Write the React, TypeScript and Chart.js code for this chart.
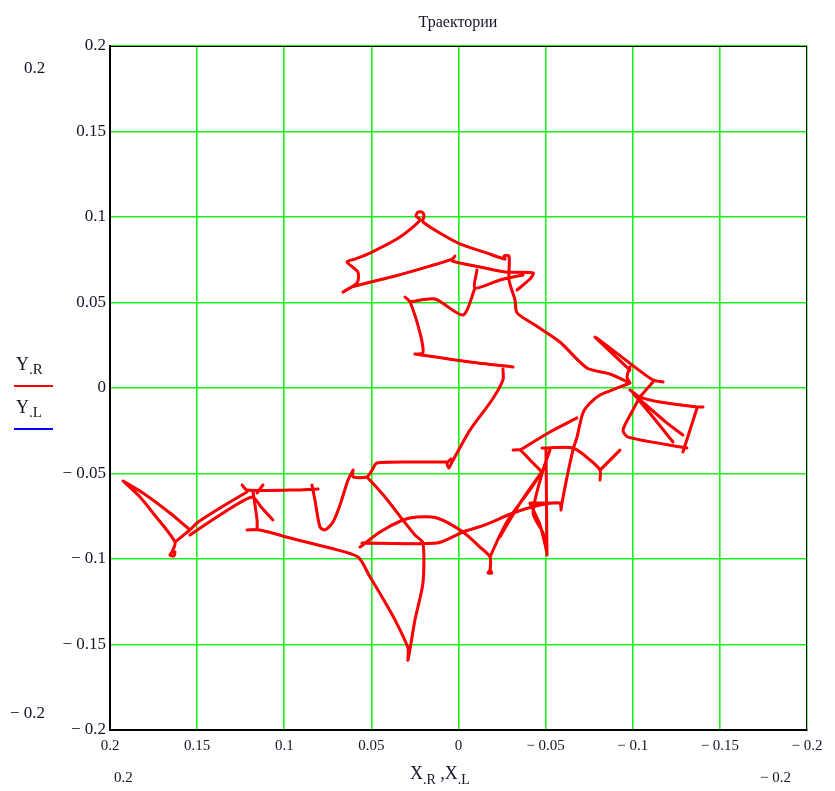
import React, { useEffect, useRef } from "react";
import { Chart, registerables } from "chart.js";
Chart.register(...registerables);

// Axis tick values (both axes, Mathcad-style, x reversed)
const tickValues = [-0.2, -0.15, -0.1, -0.05, 0, 0.05, 0.1, 0.15, 0.2];
const axisMin = -0.2;
const axisMax = 0.2;

// Trajectory strokes: X.R values (each inner array is one stroke)
const strokesX: number[][] = [
  [0.0663, 0.0582, 0.0577, 0.064, 0.0594, 0.0508, 0.0336, 0.0221, 0.0244, 0.0232, 0.0209, 0.0198, 0.0204, 0.0003, -0.0164, -0.0267, -0.0261, -0.029, -0.029, -0.0324, -0.0336, -0.0439, -0.0582, -0.0737, -0.0869, -0.0984],
  [0.0663, 0.0611, 0.0364, 0.0164, 0.0037, 0.002, 0.0037, -0.0123, -0.0267, -0.0428, -0.041, -0.0336],
  [-0.0106, -0.0095, -0.0238, -0.037],
  [-0.0095, -0.0026, 0.0135, 0.0278],
  [0.0307, 0.0278, 0.0221, 0.0204, 0.025],
  [0.025, -0.0066, -0.0313],
  [-0.0255, -0.0255, -0.0192, -0.0066, 0.0037, 0.0055, 0.0066, 0.0043],
  [0.006, 0.0221, 0.0468, 0.0496, 0.0525, 0.0605, 0.0605],
  [0.0525, 0.0422, 0.0319, 0.025, 0.0204, 0.0204, 0.025, 0.029, 0.029, 0.0364, 0.0439, 0.0508, 0.0577, 0.0737, 0.0967, 0.1139, 0.1214],
  [0.1156, 0.1156, 0.1179],
  [0.1242, 0.1214, 0.091, 0.0806],
  [0.0841, 0.0824, 0.0795, 0.0766, 0.072, 0.068, 0.0634, 0.0605],
  [0.0565, 0.045, 0.0319, 0.0238, 0.0123, -0.0026, -0.0123, -0.0181, -0.0181, -0.0169, -0.0192, -0.0181],
  [0.0554, 0.0123, -0.0026, -0.0152, -0.0313, -0.0468, -0.0582, -0.0588],
  [-0.0181, -0.0238, -0.0296, -0.041, -0.0485],
  [-0.0502, -0.0508],
  [-0.041, -0.0468, -0.0508],
  [-0.0313, -0.0353, -0.041, -0.0468],
  [-0.0353, -0.0525, -0.068],
  [-0.0479, -0.0657, -0.0755, -0.0812, -0.0812],
  [-0.0812, -0.0927],
  [-0.0525, -0.0485, -0.0428, -0.0485, -0.0508],
  [-0.0485, -0.0353, -0.0238],
  [-0.041, -0.0582],
  [-0.0984, -0.0927, -0.0812, -0.0755, -0.0714, -0.068, -0.0657, -0.0623, -0.0594, -0.0588],
  [-0.0783, -0.0984],
  [-0.0795, -0.0996, -0.1116, -0.1174],
  [-0.0984, -0.0967, -0.0984],
  [-0.1116, -0.1042, -0.1001, -0.0944, -0.0973, -0.1311],
  [-0.0984, -0.1042, -0.1156, -0.1369, -0.1403],
  [-0.1369, -0.1288],
  [-0.1001, -0.1116, -0.1231],
  [-0.1042, -0.1197, -0.1288],
  [0.1925, 0.1811, 0.1656, 0.1541],
  [0.1925, 0.1828, 0.1753, 0.1627, 0.1644, 0.1656, 0.1633, 0.1627],
  [0.1627, 0.1541, 0.1501, 0.1369, 0.1214],
  [0.1541, 0.1369, 0.1185, 0.1128, 0.1065],
  [0.1122, 0.1156],
];

// Trajectory strokes: Y.R values (same shape as strokesX)
const strokesY: number[][] = [
  [0.0561, 0.0614, 0.0678, 0.0737, 0.0754, 0.0789, 0.0883, 0.0982, 0.1006, 0.1029, 0.1029, 0.1006, 0.0971, 0.0848, 0.0789, 0.0754, 0.0772, 0.0772, 0.0632, 0.0515, 0.0439, 0.0368, 0.0269, 0.0117, 0.0082, 0.0029],
  [0.0561, 0.0591, 0.0655, 0.0713, 0.0754, 0.0772, 0.0743, 0.0708, 0.0678, 0.0673, 0.0637, 0.0573],
  [0.069, 0.0585, 0.0632, 0.0661],
  [0.0585, 0.0427, 0.052, 0.0503],
  [0.0532, 0.0503, 0.0322, 0.0205, 0.0199],
  [0.0199, 0.0152, 0.0123],
  [0.0111, 0.0047, -0.007, -0.0246, -0.0433, -0.0468, -0.0439, -0.0415],
  [-0.0433, -0.0433, -0.0439, -0.048, -0.052, -0.052, -0.048],
  [-0.052, -0.0637, -0.0772, -0.086, -0.0906, -0.114, -0.1357, -0.1591, -0.152, -0.1357, -0.1222, -0.1105, -0.0988, -0.0936, -0.0877, -0.083, -0.083],
  [-0.083, -0.0772, -0.0608],
  [-0.0567, -0.0596, -0.0596, -0.0591],
  [-0.0567, -0.0655, -0.0813, -0.083, -0.0784, -0.0684, -0.0538, -0.048],
  [-0.093, -0.0842, -0.0772, -0.0754, -0.076, -0.0842, -0.093, -0.0988, -0.1064, -0.1082, -0.1082, -0.1064],
  [-0.0906, -0.0906, -0.0842, -0.0801, -0.0731, -0.0684, -0.0673, -0.0702],
  [-0.0988, -0.086, -0.0754, -0.0596, -0.048],
  [-0.0363, -0.0977],
  [-0.0673, -0.0801, -0.0965],
  [-0.0363, -0.0363, -0.0421, -0.048],
  [-0.0363, -0.0257, -0.0175],
  [-0.0351, -0.0351, -0.0421, -0.048, -0.0538],
  [-0.048, -0.0363],
  [-0.0363, -0.048, -0.0731, -0.0848, -0.0965],
  [-0.048, -0.0673, -0.0871],
  [-0.0673, -0.0673],
  [0.0029, 0.0006, -0.0041, -0.0088, -0.0146, -0.0287, -0.0363, -0.052, -0.0673, -0.0713],
  [0.0298, 0.0105],
  [0.0292, 0.0135, 0.0047, 0.0035],
  [0.0123, 0.0064, 0.0029],
  [0.0035, -0.0053, -0.0129, -0.0246, -0.0287, -0.0351],
  [-0.0012, -0.0053, -0.0082, -0.0111, -0.0111],
  [-0.0117, -0.0374],
  [-0.0029, -0.017, -0.0316],
  [-0.007, -0.0205, -0.0275],
  [-0.0544, -0.0614, -0.0731, -0.083],
  [-0.0544, -0.0637, -0.0731, -0.0901, -0.0959, -0.0977, -0.0982, -0.0959],
  [-0.0901, -0.083, -0.0789, -0.0702, -0.0608],
  [-0.086, -0.0743, -0.0637, -0.0702, -0.0772],
  [-0.0567, -0.0614],
];

const SERIF = "'Liberation Serif', 'Times New Roman', serif";
const TEXT_COLOR = "#141428";

function fmt(v: number): string {
  const r = Math.round(v * 100) / 100;
  if (r === 0) return "0";
  return r < 0 ? "\u2212 " + String(Math.abs(r)) : String(r);
}

export default function App() {
  const ref = useRef<HTMLCanvasElement>(null);

  useEffect(() => {
    document.body.style.margin = "0";
    const pts: { x: number | null; y: number | null }[] = [];
    strokesX.forEach((xs, i) => {
      xs.forEach((x, j) => pts.push({ x, y: strokesY[i][j] }));
      pts.push({ x: null, y: null });
    });

    const setTicks = (scale: any) => {
      scale.ticks = tickValues.map((v) => ({ value: v }));
    };

    const boxPlugin = {
      id: "box",
      afterDraw(chart: any) {
        const { ctx, chartArea: a } = chart;
        ctx.save();
        ctx.strokeStyle = "#000";
        ctx.lineWidth = 1;
        ctx.strokeRect(a.left + 0.5, a.top + 0.5, a.right - a.left - 1, a.bottom - a.top - 1);
        ctx.restore();
      },
    };

    const gridColor = "#1cf01c";

    const chart = new Chart(ref.current as HTMLCanvasElement, {
      type: "scatter",
      data: {
        datasets: [
          {
            label: "Y.L",
            data: pts as any,
            showLine: true,
            spanGaps: false,
            borderColor: "#0000ff",
            borderWidth: 2,
            tension: 0.25,
            pointRadius: 0,
            pointHoverRadius: 0,
            order: 2,
          },
          {
            label: "Y.R",
            data: pts as any,
            showLine: true,
            spanGaps: false,
            borderColor: "#ff0000",
            borderWidth: 3,
            tension: 0.25,
            borderJoinStyle: "round",
            borderCapStyle: "round",
            pointRadius: 0,
            pointHoverRadius: 0,
            order: 1,
          },
        ],
      },
      options: {
        responsive: false,
        animation: false,
        events: [],
        layout: { padding: { top: 46, right: 28, left: 0, bottom: 0 } },
        plugins: {
          legend: { display: false },
          tooltip: { enabled: false },
          title: { display: false },
        },
        scales: {
          x: {
            type: "linear",
            min: axisMin,
            max: axisMax,
            reverse: true,
            afterBuildTicks: setTicks,
            afterFit: (s: any) => {
              s.height = 61;
            },
            grid: { color: gridColor, lineWidth: 1.6, drawTicks: false },
            border: { display: true, color: "#000", width: 2 },
            ticks: {
              padding: 7,
              color: TEXT_COLOR,
              font: { family: SERIF, size: 15 },
              callback: (v: any) => fmt(Number(v)),
              maxRotation: 0,
              autoSkip: false,
            },
          },
          y: {
            type: "linear",
            min: axisMin,
            max: axisMax,
            afterBuildTicks: setTicks,
            afterFit: (s: any) => {
              s.width = 110;
            },
            grid: { color: gridColor, lineWidth: 1.6, drawTicks: false },
            border: { display: true, color: "#000", width: 2 },
            ticks: {
              padding: 4,
              color: TEXT_COLOR,
              font: { family: SERIF, size: 17 },
              callback: (v: any) => fmt(Number(v)),
              autoSkip: false,
            },
          },
        },
      },
      plugins: [boxPlugin],
    } as any);

    return () => chart.destroy();
  }, []);

  const txt: React.CSSProperties = {
    position: "absolute",
    fontFamily: SERIF,
    color: TEXT_COLOR,
    whiteSpace: "nowrap",
    lineHeight: 1,
  };

  return (
    <div
      style={{
        position: "absolute",
        left: 0,
        top: 0,
        width: 835,
        height: 791,
        background: "#fff",
        overflow: "hidden",
      }}
    >
      <canvas ref={ref} width={835} height={791} style={{ position: "absolute", left: 0, top: 0, width: 835, height: 791 }} />
      <div style={{ ...txt, left: 358, width: 200, top: 14, textAlign: "center", fontSize: 16 }}>Траектории</div>
      <div style={{ ...txt, left: 24, top: 59, fontSize: 17 }}>0.2</div>
      <div style={{ ...txt, left: 10, top: 704, fontSize: 17 }}>{"\u2212 0.2"}</div>
      <div style={{ ...txt, left: 114, top: 770, fontSize: 15 }}>0.2</div>
      <div style={{ ...txt, left: 760, top: 770, fontSize: 15 }}>{"\u2212 0.2"}</div>
      <div style={{ ...txt, left: 410, top: 764, fontSize: 18 }}>
        X<span style={{ fontSize: 14, position: "relative", top: 5 }}>.R</span> ,X
        <span style={{ fontSize: 14, position: "relative", top: 5 }}>.L</span>
      </div>
      <div style={{ ...txt, left: 16, top: 355, fontSize: 18 }}>
        Y<span style={{ fontSize: 15, position: "relative", top: 4 }}>.R</span>
      </div>
      <div style={{ position: "absolute", left: 14, top: 385, width: 39, height: 2, background: "#ff0000" }} />
      <div style={{ ...txt, left: 16, top: 398, fontSize: 18 }}>
        Y<span style={{ fontSize: 15, position: "relative", top: 4 }}>.L</span>
      </div>
      <div style={{ position: "absolute", left: 14, top: 428, width: 39, height: 2, background: "#0000ff" }} />
    </div>
  );
}
